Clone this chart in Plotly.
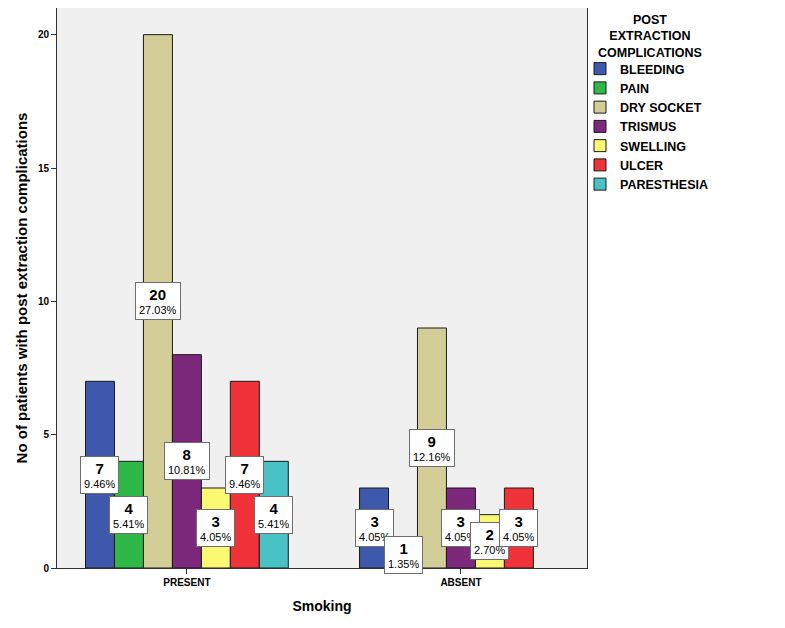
import plotly.graph_objects as go

groups = ["PRESENT", "ABSENT"]
complications = ["BLEEDING", "PAIN", "DRY SOCKET", "TRISMUS", "SWELLING", "ULCER", "PARESTHESIA"]
colors = ["#3E58AC", "#2EB848", "#D3CE97", "#7C287D", "#FBF873", "#EF3338", "#48C2C5"]
present_counts = [7, 4, 20, 8, 3, 7, 4]
absent_counts = [3, 1, 9, 3, 2, 3, None]
total = 74
legend_title = "POST<br>EXTRACTION<br>COMPLICATIONS"

FONT = "Liberation Sans, Arial, sans-serif"
bargap = 0.26

# page body has an 8px margin; plot area target on page: x 57..587, y 8..568
PX0, PX1, PY0, PY1 = 57, 587, 8, 568


def px_x(px):
    return (px - PX0) / (PX1 - PX0)


def px_y(py):
    return (PY1 - py) / (PY1 - PY0)


fig = go.Figure()
for i, name in enumerate(complications):
    vals = [present_counts[i], absent_counts[i]]
    fig.add_trace(go.Bar(
        x=groups, y=vals, name=name,
        marker=dict(color=colors[i], line=dict(color="#1a1a1a", width=1)),
    ))

n = len(complications)
slot = (1 - bargap) / n
annotations = []
for gi, counts in enumerate([present_counts, absent_counts]):
    for i, v in enumerate(counts):
        if v is None:
            continue
        pct = v / total * 100
        annotations.append(dict(
            x=gi + (i - (n - 1) / 2) * slot, y=v / 2, xref="x", yref="y",
            text=f"<span style='font-size:15px'><b>{v}</b></span><br>{pct:.2f}%",
            showarrow=False, bgcolor="white", bordercolor="#6e6e6e", borderwidth=1,
            borderpad=3, height=30, font=dict(family=FONT, size=11, color="black"),
            align="center",
        ))

annotations.append(dict(
    x=px_x(650), y=px_y(11), xref="paper", yref="paper", showarrow=False,
    xanchor="center", yanchor="top",
    text=f"<b>{legend_title}</b>", align="center",
    font=dict(family=FONT, size=12.5, color="black"),
))

fig.update_layout(
    width=777, height=620,
    margin=dict(l=49, r=198, t=0, b=60, autoexpand=False),
    paper_bgcolor="white", plot_bgcolor="#F0F0F0",
    barmode="group", bargap=bargap, bargroupgap=0,
    font=dict(family=FONT, color="black"),
    annotations=annotations,
    showlegend=True,
    legend=dict(
        x=px_x(580), xanchor="left", y=px_y(54), yanchor="top", xref="paper",
        font=dict(family=FONT, size=12.5, color="black", weight="bold"),
        tracegroupgap=0, itemwidth=30, bgcolor="rgba(0,0,0,0)",
    ),
    xaxis=dict(
        range=[-0.474, 1.46], showline=True, mirror=True, linecolor="#333333", linewidth=1,
        ticks="outside", ticklen=5, tickcolor="#333333",
        tickfont=dict(family=FONT, size=10, color="black", weight="bold"),
        title=dict(text="<b>Smoking</b>", font=dict(family=FONT, size=14), standoff=14),
        showgrid=False,
    ),
    yaxis=dict(
        range=[0, 21], showline=True, mirror=True, linecolor="#333333", linewidth=1,
        ticks="outside", ticklen=5, tickcolor="#333333", tickvals=[0, 5, 10, 15, 20],
        tickfont=dict(family=FONT, size=10, color="black", weight="bold"),
        title=dict(text="<b>No of patients with post extraction complications</b>",
                   font=dict(family=FONT, size=15), standoff=6),
        showgrid=False, zeroline=False,
    ),
)

fig.write_html("out.html")
